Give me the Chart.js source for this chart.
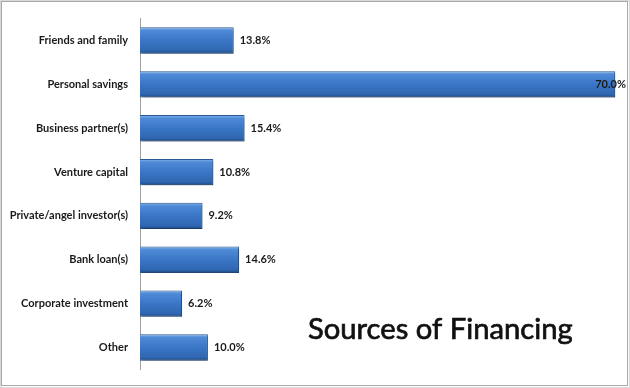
<!DOCTYPE html>
<html><head><meta charset="utf-8">
<script src="https://cdn.jsdelivr.net/npm/chart.js@4/dist/chart.umd.min.js"></script>
<style>html,body{margin:0;padding:0;background:#fff}#wrap{width:630px;height:388px;position:relative}</style>
</head><body><div id="wrap"><canvas id="c" width="630" height="388"></canvas></div>
<script>
const categories = ["Friends and family","Personal savings","Business partner(s)","Venture capital","Private/angel investor(s)","Bank loan(s)","Corporate investment","Other"];
const values = [13.8,70.0,15.4,10.8,9.2,14.6,6.2,10.0];
const chartTitle = "Sources of Financing";
const FONT = "Lato, 'Open Sans', sans-serif";

const frame = {
  id:'frame',
  beforeDraw(c){const x=c.ctx;x.save();x.fillStyle='#fff';x.fillRect(0,0,c.width,c.height);x.restore();},
  beforeDatasetsDraw(c){const x=c.ctx;x.save();x.shadowColor='rgba(0,0,0,0.35)';x.shadowOffsetX=1.5;x.shadowOffsetY=1.5;x.shadowBlur=2;},
  afterDatasetsDraw(c){c.ctx.restore();},
  afterDraw(c){
    const x=c.ctx;x.save();
    x.strokeStyle='#a8a8a8';x.lineWidth=1;x.strokeRect(1.5,1.5,c.width-4,c.height-4);
    x.strokeStyle='#d8d8d8';x.strokeRect(0.5,0.5,c.width-1,c.height-1);
    x.fillStyle='#111';x.strokeStyle='#111';x.lineWidth=0.7;
    let fs=28;x.font=fs+"px "+FONT;
    fs=fs*265/x.measureText(chartTitle).width;x.font=fs.toFixed(1)+"px "+FONT;
    x.textAlign='left';x.textBaseline='alphabetic';
    x.fillText(chartTitle,308,339);x.strokeText(chartTitle,308,339);
    x.restore();
  }
};
const labels = {
  id:'vlabels',
  afterDatasetsDraw(c){
    const x=c.ctx;const meta=c.getDatasetMeta(0);x.save();
    x.font="bold 11px "+FONT;x.fillStyle='#1a1a1a';x.textBaseline='middle';
    meta.data.forEach((b,i)=>{
      const t=values[i].toFixed(1)+'%';
      if(b.x+10+x.measureText(t).width>c.chartArea.right+4){x.textAlign='right';x.fillText(t,c.chartArea.right+4,b.y);}
      else{x.textAlign='left';x.fillText(t,b.x+6,b.y);}
    });
    x.restore();
  }
};
new Chart(document.getElementById('c'),{
  type:'bar',
  data:{labels:categories,datasets:[{data:values,
    backgroundColor(ctx){
      const ch=ctx.chart; const ys=ch.scales&&ch.scales.y;
      if(!ys||ctx.dataIndex===undefined) return '#3a78c4';
      const yc=ys.getPixelForTick(ctx.dataIndex);
      const h=(ys.height/categories.length)*0.6;
      if(!isFinite(yc)||!isFinite(h)||h<=0) return '#3a78c4';
      const y0=yc-h/2;
      const g=ch.ctx.createLinearGradient(0,y0,0,y0+h);
      g.addColorStop(0,'#8ab8ee');g.addColorStop(0.12,'#4e8ad6');g.addColorStop(0.5,'#3a76c6');g.addColorStop(0.88,'#2f66b0');g.addColorStop(1,'#1d467f');
      return g;
    },
    borderColor:'#2a5a98',borderWidth:1,borderSkipped:'left',
    barPercentage:0.6,categoryPercentage:1}]},
  options:{indexAxis:'y',responsive:false,animation:false,
    layout:{padding:{top:13,bottom:15,right:8,left:0}},
    plugins:{legend:{display:false},tooltip:{enabled:false},title:{display:false}},
    scales:{
      x:{display:false,min:0,max:71},
      y:{afterFit(s){s.width=140;},
        grid:{display:false,drawTicks:false},
        border:{display:true,color:'#a0a0a0',width:1},
        ticks:{padding:12,color:'#1a1a1a',font:{family:FONT,size:11,weight:'bold'}}}
    }},
  plugins:[frame,labels]
});
</script></body></html>
